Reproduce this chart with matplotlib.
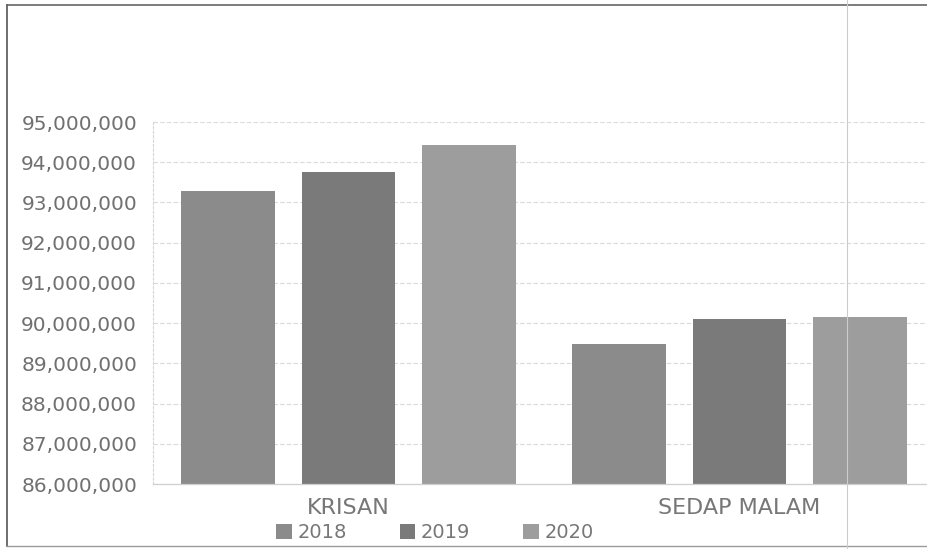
import matplotlib
matplotlib.use("Agg")
import matplotlib.pyplot as plt
import numpy as np
from matplotlib.ticker import FuncFormatter, MultipleLocator
from matplotlib.patches import Rectangle
from matplotlib.lines import Line2D

categories = ["KRISAN", "SEDAP MALAM"]
years = ["2018", "2019", "2020"]
v2018 = [93_280_000, 89_480_000]
v2019 = [93_750_000, 90_100_000]
v2020 = [94_430_000, 90_160_000]
series = [v2018, v2019, v2020]
colors = ["#8b8b8b", "#7a7a7a", "#9d9d9d"]

fig = plt.figure(figsize=(9.27, 5.49), dpi=100)
ax = fig.add_axes([153/927, 1-484/549, 782/927, 362/549])

x = np.arange(len(categories))
width = 0.24
offsets = [-0.308, 0.0, 0.308]
handles = []
for vals, off, col, yr in zip(series, offsets, colors, years):
    b = ax.bar(x + off, vals, width=width, color=col, label=yr, zorder=2)
    handles.append(b)

ax.set_xlim(-0.5, 1.5)
ax.set_ylim(86_000_000, 95_000_000)
ax.yaxis.set_major_locator(MultipleLocator(1_000_000))
ax.yaxis.set_major_formatter(FuncFormatter(lambda v, p: f"{int(round(v)):,}"))
ax.grid(axis="y", color="#dadada", linewidth=0.8, linestyle=(0, (4, 2)), zorder=0)
ax.set_axisbelow(True)

for s in ["top", "right"]:
    ax.spines[s].set_visible(False)
ax.spines["left"].set_color("#d5d5d5")
ax.spines["left"].set_linestyle((0, (2, 2)))
ax.spines["left"].set_linewidth(0.8)
ax.spines["bottom"].set_color("#cfcfcf")
ax.spines["bottom"].set_linewidth(0.9)

ax.tick_params(axis="y", length=0, pad=11.5, labelsize=14.5, labelcolor="#707070")
ax.set_xticks(x)
ax.set_xticklabels(categories)
ax.tick_params(axis="x", length=0, pad=10, labelsize=16, labelcolor="#777777")

fig.legend(handles=handles, labels=years, loc="center",
           bbox_to_anchor=(435/927, 1-533/549), ncol=3, frameon=False,
           fontsize=14, handlelength=0.8, handleheight=0.8,
           handletextpad=0.3, columnspacing=2.7, borderpad=0,
           labelcolor="#777777")

# frame of the scanned chart
fig.add_artist(Line2D([7.5/927, 7.5/927], [1-546/549, 1-5/549], transform=fig.transFigure,
                      color="#555555", linewidth=1.2))
fig.add_artist(Line2D([7.5/927, 1.0], [1-5/549, 1-5/549], transform=fig.transFigure,
                      color="#666666", linewidth=1.2))
fig.add_artist(Line2D([7.5/927, 1.0], [1-546/549, 1-546/549], transform=fig.transFigure,
                      color="#9a9a9a", linewidth=1.0))
fig.add_artist(Line2D([847/927, 847/927], [0, 1], transform=fig.transFigure,
                      color="#cccccc", linewidth=0.8))

fig.savefig("out.png", dpi=100)
